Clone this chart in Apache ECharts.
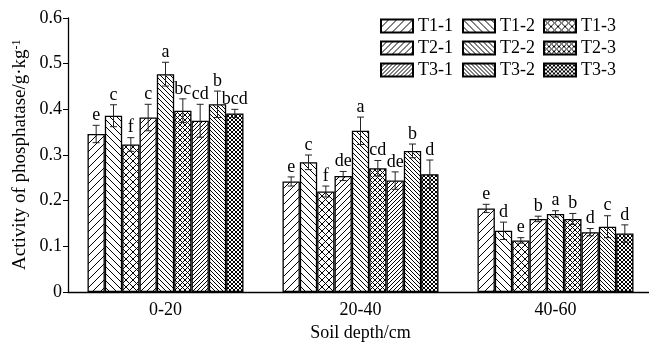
<!DOCTYPE html>
<html>
<head>
<meta charset="utf-8">
<script src="https://cdn.jsdelivr.net/npm/echarts@6/dist/echarts.min.js"></script>
<style>
html, body { margin: 0; padding: 0; background: #fff; }
#container { width: 649px; height: 343px; }
</style>
</head>
<body>
<div id="container"></div>
<script>
const depths = ['0-20', '20-40', '40-60'];
const treatments = ['T1-1', 'T1-2', 'T1-3', 'T2-1', 'T2-2', 'T2-3', 'T3-1', 'T3-2', 'T3-3'];

// mean values per depth, in treatment order
const mean0_20 = [0.346, 0.386, 0.323, 0.382, 0.477, 0.397, 0.375, 0.411, 0.391];
const mean20_40 = [0.242, 0.284, 0.220, 0.254, 0.353, 0.271, 0.244, 0.309, 0.258];
const mean40_60 = [0.183, 0.134, 0.113, 0.160, 0.171, 0.160, 0.131, 0.143, 0.128];

// standard errors
const err0_20 = [0.019, 0.024, 0.015, 0.029, 0.026, 0.026, 0.036, 0.029, 0.009];
const err20_40 = [0.010, 0.016, 0.012, 0.010, 0.030, 0.017, 0.019, 0.015, 0.031];
const err40_60 = [0.009, 0.019, 0.006, 0.006, 0.007, 0.012, 0.008, 0.024, 0.019];

// significance letters
const letters0_20 = ['e', 'c', 'f', 'c', 'a', 'bc', 'cd', 'b', 'bcd'];
const letters20_40 = ['e', 'c', 'f', 'de', 'a', 'cd', 'de', 'b', 'd'];
const letters40_60 = ['e', 'd', 'e', 'b', 'a', 'b', 'd', 'c', 'd'];

const yMin = 0, yMax = 0.6, yStep = 0.1;

const FONT = '"Liberation Serif", "Times New Roman", serif';
const means = [mean0_20, mean20_40, mean40_60];
const errs = [err0_20, err20_40, err40_60];
const letters = [letters0_20, letters20_40, letters40_60];

function hatch(kind, s) {
    let c = document.createElement('canvas');
    c.width = s;
    c.height = s;
    let g = c.getContext('2d');
    g.fillStyle = '#fff';
    g.fillRect(0, 0, s, s);
    g.strokeStyle = '#000';
    g.lineWidth = 1;
    g.beginPath();
    if (kind === '/' || kind === 'x') {
        g.moveTo(-1, 1); g.lineTo(1, -1);
        g.moveTo(0, s); g.lineTo(s, 0);
        g.moveTo(s - 1, s + 1); g.lineTo(s + 1, s - 1);
    }
    if (kind === '\\' || kind === 'x') {
        g.moveTo(-1, s - 1); g.lineTo(1, s + 1);
        g.moveTo(0, 0); g.lineTo(s, s);
        g.moveTo(s - 1, -1); g.lineTo(s + 1, 1);
    }
    g.stroke();
    return { image: c, repeat: 'repeat' };
}

const patterns = [
    hatch('/', 8), hatch('\\', 7), hatch('x', 7),
    hatch('/', 6), hatch('\\', 5), hatch('x', 5),
    hatch('/', 4), hatch('\\', 4), hatch('x', 4)
];

let series = treatments.map((t, k) => ({
    name: t,
    type: 'bar',
    data: means.map(m => m[k]),
    barGap: '0%',
    barCategoryGap: '20%',
    itemStyle: { color: patterns[k], borderColor: '#000', borderWidth: 1.3 }
}));

// error bars + letters
let errData = [];
for (let d = 0; d < depths.length; d++) {
    for (let k = 0; k < treatments.length; k++) {
        errData.push([d, k, means[d][k], errs[d][k]]);
    }
}
series.push({
    type: 'custom',
    name: 'err',
    z: 10,
    data: errData,
    encode: { x: 0, y: 2 },
    renderItem: function (params, api) {
        let d = api.value(0), k = api.value(1), v = api.value(2), e = api.value(3);
        let band = api.size([1, 0])[0];
        let bw = band * 0.8 / treatments.length;
        let cx = api.coord([d, v])[0] + (k - (treatments.length - 1) / 2) * bw;
        let top = api.coord([d, v + e])[1];
        let bot = api.coord([d, v - e])[1];
        let cap = 3.5;
        let st = { stroke: '#222', lineWidth: 1 };
        return {
            type: 'group',
            children: [
                { type: 'line', shape: { x1: cx, y1: top, x2: cx, y2: bot }, style: st },
                { type: 'line', shape: { x1: cx - cap, y1: top, x2: cx + cap, y2: top }, style: st },
                { type: 'line', shape: { x1: cx - cap, y1: bot, x2: cx + cap, y2: bot }, style: st },
                {
                    type: 'text',
                    x: cx, y: top - 1,
                    style: {
                        text: letters[d][k], fill: '#000', font: '18px ' + FONT,
                        textAlign: 'center', textVerticalAlign: 'bottom'
                    }
                }
            ]
        };
    }
});

// one legend per item, laid out 3 x 3
const legendLeft = [380, 462, 543];
const legendTop = [16, 38, 60];
let legends = treatments.map((t, k) => ({
    data: [t],
    left: legendLeft[k % 3],
    top: legendTop[Math.floor(k / 3)],
    padding: 0,
    icon: 'rect',
    itemWidth: 32,
    itemHeight: 13,
    selectedMode: false,
    textStyle: { fontFamily: FONT, fontSize: 18, color: '#000', lineHeight: 20 }
}));

let dom = document.getElementById('container');
let myChart = echarts.init(dom, null, { renderer: 'canvas' });

let option = {
    animation: false,
    backgroundColor: '#fff',
    textStyle: { fontFamily: FONT },
    grid: { left: 68, top: 18, bottom: 51, width: 585, containLabel: false, outerBoundsMode: 'none' },
    legend: legends,
    graphic: [{
        type: 'text',
        x: 20,
        y: 270,
        rotation: Math.PI / 2,
        style: {
            text: '{a|Activity of phosphatase/g·kg}{b|-1}',
            textAlign: 'left',
            textVerticalAlign: 'middle',
            rich: {
                a: { fontFamily: FONT, fontSize: 19, fill: '#000' },
                b: { fontFamily: FONT, fontSize: 12, fill: '#000', verticalAlign: 'top' }
            }
        }
    }],
    xAxis: {
        type: 'category',
        data: depths,
        name: 'Soil depth/cm',
        nameLocation: 'middle',
        nameGap: 30,
        nameTextStyle: { fontFamily: FONT, fontSize: 18, color: '#000' },
        axisLine: { lineStyle: { color: '#000', width: 1.3 } },
        axisTick: { inside: true, length: 5, lineStyle: { color: '#000' } },
        axisLabel: { fontFamily: FONT, fontSize: 18, color: '#000', margin: 9 }
    },
    yAxis: {
        type: 'value',
        min: yMin,
        max: yMax,
        interval: yStep,
        splitLine: { show: false },
        axisLine: { show: true, lineStyle: { color: '#000', width: 1.3 } },
        axisTick: { show: true, length: 5, lineStyle: { color: '#000' } },
        axisLabel: {
            fontFamily: FONT, fontSize: 18, color: '#000', margin: 6,
            formatter: v => (v === 0 ? '0' : v.toFixed(1))
        }
    },
    series: series
};
myChart.setOption(option);
</script>
</body>
</html>
